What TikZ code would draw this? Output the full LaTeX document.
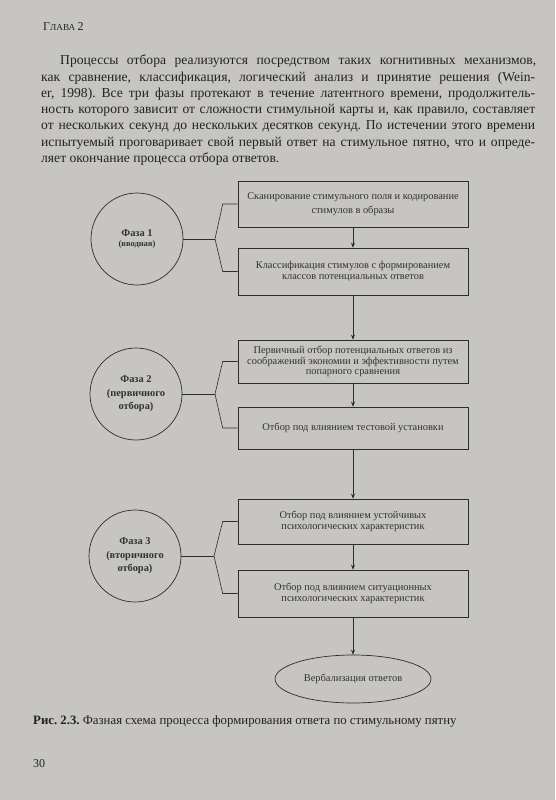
\documentclass[tikz,border=0pt]{standalone}
\usepackage{fontspec}
\setmainfont{Liberation Serif}
\usetikzlibrary{arrows.meta,shapes.geometric}
\definecolor{paper}{RGB}{198,197,193}
\definecolor{ink}{RGB}{34,34,34}
\definecolor{linec}{RGB}{45,45,45}
\definecolor{dink}{RGB}{50,50,50}
\frenchspacing
\tikzset{
  para/.style={anchor=base west, inner sep=0pt, text=ink, font=\fontsize{13.6}{15}\selectfont},
  stagebox/.style={draw=linec, line width=0.6pt, rectangle, minimum width=230pt, inner sep=2pt, align=center, text=dink, font=\fontsize{10.4}{11}\selectfont},
  phase/.style={draw=linec, line width=0.7pt, circle, minimum size=92pt, inner sep=0pt, align=center, text=dink, font=\bfseries\fontsize{10.4}{13.5}\selectfont},
  arr/.style={draw=linec, line width=0.6pt, -{Stealth[length=5pt,width=4pt]}},
  link/.style={draw=linec, line width=0.6pt},
}
\begin{document}
\begin{tikzpicture}[x=1pt,y=-1pt]
\fill[paper] (0,0) rectangle (555,800);
\useasboundingbox (0,0) rectangle (555,800);

% header
\node[para] (hdr) at (43,31) {\fontsize{12}{12}\selectfont Г\fontsize{9.2}{9.2}\selectfont ЛАВА \fontsize{12}{12}\selectfont 2};

% paragraph
\node[para] (p1) at (60,65) {\makebox[476pt][s]{Процессы отбора реализуются посредством таких когнитивных механизмов,}};
\node[para] (p2) at (41,81.2) {\makebox[494pt][s]{как сравнение, классификация, логический анализ и принятие решения (Wein-}};
\node[para] (p3) at (41,97.4) {\makebox[494pt][s]{er, 1998). Все три фазы протекают в течение латентного времени, продолжитель-}};
\node[para] (p4) at (41,113.6) {\makebox[494pt][s]{ность которого зависит от сложности стимульной карты и, как правило, составляет}};
\node[para] (p5) at (41,129.8) {\makebox[494pt][s]{от нескольких секунд до нескольких десятков секунд. По истечении этого времени}};
\node[para] (p6) at (41,146) {\makebox[494pt][s]{испытуемый проговаривает свой первый ответ на стимульное пятно, что и опреде-}};
\node[para] (p7) at (41,162.2) {ляет окончание процесса отбора ответов.};

% boxes
\node[stagebox, minimum height=46pt, font=\fontsize{10.4}{14}\selectfont] (b1) at (353,204) {Сканирование стимульного поля и кодирование\\стимулов в образы};
\node[stagebox, minimum height=47pt] (b2) at (353,271.5) {Классификация стимулов  с формированием\\классов потенциальных ответов};
\node[stagebox, minimum height=43pt, font=\fontsize{10.4}{10.8}\selectfont] (b3) at (353,361.5) {Первичный отбор потенциальных ответов из\\соображений экономии и эффективности путем\\попарного сравнения};
\node[stagebox, minimum height=42pt] (b4) at (353,428) {Отбор под влиянием тестовой установки};
\node[stagebox, minimum height=45pt] (b5) at (353,521.5) {Отбор под влиянием устойчивых\\психологических характеристик};
\node[stagebox, minimum height=47pt] (b6) at (353,593.5) {Отбор под влиянием ситуационных\\психологических характеристик};
\node[draw=linec, line width=0.7pt, ellipse, minimum width=156pt, minimum height=48pt, inner sep=0pt, text=dink, font=\fontsize{10.4}{11}\selectfont] (verb) at (353,679) {Вербализация ответов};

% phases
\node[phase] (f1) at (137,239) {Фаза 1\\[-3pt]{\fontsize{8.5}{9}\selectfont (вводная)}};
\node[phase] (f2) at (136,394) {Фаза 2\\(первичного\\отбора)};
\node[phase] (f3) at (135,556) {Фаза 3\\(вторичного\\отбора)};

% brace apexes
\coordinate (a1) at (215,239);
\coordinate (a2) at (215,394);
\coordinate (a3) at (214,556);

% arrows
\draw[arr] (b1) -- (b2);
\draw[arr] (b2) -- (b3);
\draw[arr] (b3) -- (b4);
\draw[arr] (b4) -- (b5);
\draw[arr] (b5) -- (b6);
\draw[arr] (b6) -- (verb);

% brackets
\draw[link] (f1) -- (a1);
\draw[link] (b1.west) -- ([xshift=-15pt]b1.west) -- (a1) -- ([xshift=-15pt]b2.west) -- (b2.west);
\draw[link] (f2) -- (a2);
\draw[link] (b3.west) -- ([xshift=-15pt]b3.west) -- (a2) -- ([xshift=-15pt]b4.west) -- (b4.west);
\draw[link] (f3) -- (a3);
\draw[link] (b5.west) -- ([xshift=-15pt]b5.west) -- (a3) -- ([xshift=-15pt]b6.west) -- (b6.west);

% caption
\node[para, font=\fontsize{12.8}{14}\selectfont] (cap) at (33,724) {\textbf{Рис. 2.3.} Фазная схема процесса формирования ответа по стимульному пятну};
\node[para, font=\fontsize{12}{14}\selectfont] (pg) at (33,767) {30};
\end{tikzpicture}
\end{document}
